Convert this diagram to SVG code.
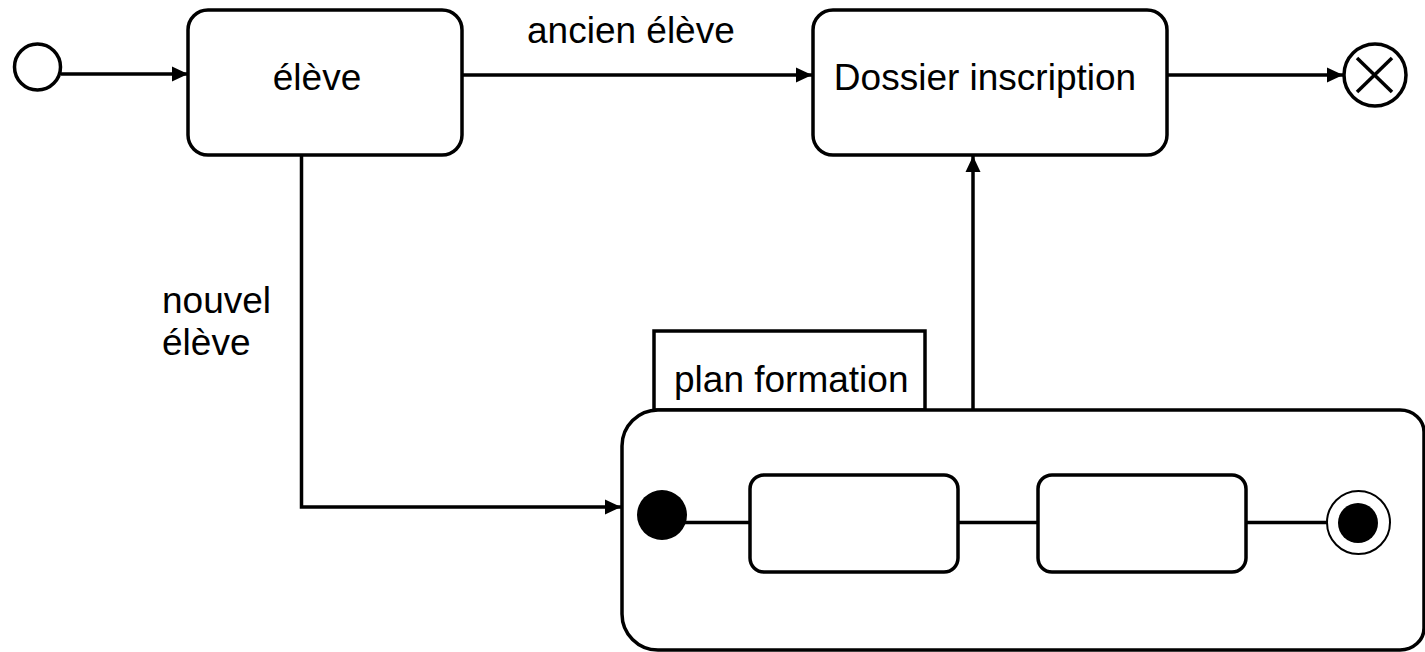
<svg xmlns="http://www.w3.org/2000/svg" width="1425" height="652" viewBox="0 0 1425 652">
<style>
.box{fill:#fff;stroke:#000;stroke-width:3.5}
.ln{fill:none;stroke:#000;stroke-width:3.5}
.t{font-family:"Liberation Sans",Arial,sans-serif;font-size:37px;fill:#000}
</style>
<defs>
<marker id="arr" markerUnits="userSpaceOnUse" markerWidth="17" markerHeight="17" viewBox="0 0 17 17" refX="16" refY="8.5" orient="auto">
<path d="M0,1 L16,8.5 L0,16 Z" fill="#000"/>
</marker>
</defs>
<rect width="1425" height="652" fill="#fff"/>
<g id="connectors">
<line class="ln" x1="61" y1="74" x2="188" y2="74" marker-end="url(#arr)"/>
<line class="ln" x1="463" y1="75" x2="812" y2="75" marker-end="url(#arr)"/>
<line class="ln" x1="1168" y1="75" x2="1343" y2="75" marker-end="url(#arr)"/>
<polyline class="ln" points="301.5,156 301.5,507 621,507" marker-end="url(#arr)"/>
<line class="ln" x1="973" y1="410" x2="973" y2="156" marker-end="url(#arr)"/>
<text class="t" x="527" y="43">ancien élève</text>
<text class="t" x="162" y="313">nouvel</text>
<text class="t" x="162" y="355">élève</text>
</g>
<g id="start">
<circle cx="37.5" cy="67" r="23" fill="#fff" stroke="#000" stroke-width="3.5"/>
</g>
<g id="eleve">
<rect class="box" x="188" y="10" width="274" height="145" rx="20"/>
<text class="t" x="317" y="90" text-anchor="middle">élève</text>
</g>
<g id="dossier">
<rect class="box" x="813" y="10" width="354" height="145" rx="20"/>
<text class="t" x="985" y="90" text-anchor="middle">Dossier inscription</text>
</g>
<g id="end">
<circle cx="1375" cy="75" r="31" fill="#fff" stroke="#000" stroke-width="3.5"/>
<line class="ln" x1="1357" y1="58" x2="1392" y2="92" stroke-width="2.5"/>
<line class="ln" x1="1392" y1="58" x2="1357" y2="92" stroke-width="2.5"/>
</g>
<g id="plan-formation">
<rect class="box" x="654" y="331" width="271" height="79"/>
<text class="t" x="674" y="392">plan formation</text>
<path class="box" d="M658,410 L1400,410 A24,22 0 0 1 1424,432 L1424,628 A24,22 0 0 1 1400,650 L658,650 A36,36 0 0 1 622,614 L622,446 A36,36 0 0 1 658,410 Z"/>
<g id="inner-lines">
<line class="ln" x1="680" y1="522.5" x2="750" y2="522.5"/>
<line class="ln" x1="958" y1="522.5" x2="1038" y2="522.5"/>
<line class="ln" x1="1246" y1="522.5" x2="1327" y2="522.5"/>
</g>
<g id="initial">
<circle cx="662" cy="515" r="25" fill="#000"/>
</g>
<g id="act1">
<rect class="box" x="750" y="475" width="208" height="97" rx="14"/>
</g>
<g id="act2">
<rect class="box" x="1038" y="475" width="208" height="97" rx="14"/>
</g>
<g id="final">
<circle cx="1358.5" cy="522.5" r="31.5" fill="#fff" stroke="#000" stroke-width="2"/>
<circle cx="1358" cy="523" r="20" fill="#000"/>
</g>
</g>
</svg>
